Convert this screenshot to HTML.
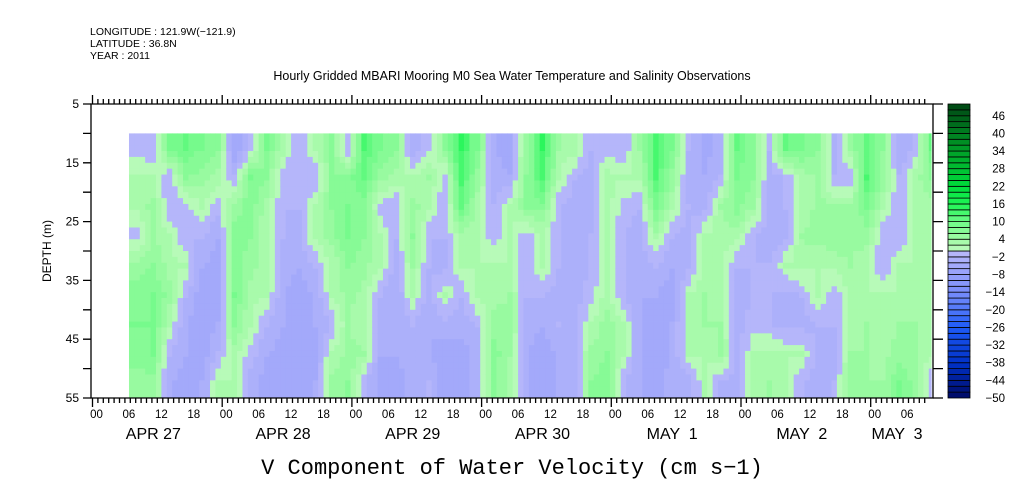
<!DOCTYPE html>
<html><head><meta charset="utf-8">
<style>
body{margin:0;background:#fff;}
svg{display:block;}
text{font-family:"Liberation Sans",sans-serif;fill:#000;}
</style></head>
<body>
<svg id="chart" width="1009" height="504" viewBox="0 0 1009 504" xmlns="http://www.w3.org/2000/svg">
<g font-size="10.5">
<text x="90" y="35">LONGITUDE : 121.9W(−121.9)</text>
<text x="90" y="47">LATITUDE : 36.8N</text>
<text x="90" y="59">YEAR : 2011</text>
</g>
<text x="512" y="80" font-size="12.5" text-anchor="middle">Hourly Gridded MBARI Mooring M0 Sea Water Temperature and Salinity Observations</text>
<g id="heat"></g>
<g id="axes" stroke="#000" stroke-width="1.3" fill="none"></g>
<g id="labels" font-size="12"></g>
<text transform="translate(51,251) rotate(-90)" font-size="12" text-anchor="middle">DEPTH (m)</text>
<text x="512" y="474" font-size="22" text-anchor="middle" style="font-family:'Liberation Mono',monospace">V Component of Water Velocity (cm s−1)</text>
<g id="cbar"></g>
</svg>
<script>
// depth rows centers: 12.5,17.5,...,52.5 ; columns: 3-hour blocks from hour 6.75 (Apr 27)
const depthRows=[12.5,17.5,22.5,27.5,32.5,37.5,42.5,47.5,52.5];
const cols=[
[-1,2,2,-1,5,7,8,7,5],[-2,2,5,4,6,8,8,8,5],[8,-2,-2,2,3,5,2,-2,-4],[10,6,-1,-2,2,-2,-4,-4,-5],
[8,5,2,-2,-4,-5,-5,-5,-4],[6,3,-1,-4,-5,-5,-4,-2,2],[-6,-2,5,7,7,8,6,3,2],[-2,8,7,6,5,3,2,-1,-3],
[8,6,3,2,2,2,-2,-4,-5],[3,-2,-2,-2,-3,-4,-4,-5,-6],[-2,-2,-2,-3,-4,-5,-5,-6,-6],[2,-2,2,3,-2,-4,-4,-5,-4],
[6,6,6,5,2,2,-2,2,5],[-2,7,8,8,6,5,4,5,6],[12,10,7,6,5,3,2,4,-2],[8,5,-1,2,2,-2,-3,-4,-5],
[6,3,-2,-2,-3,-4,-4,-4,-5],[-4,2,5,6,4,2,-2,-3,-3],[-1,4,2,-2,-2,-3,-4,-4,-2],[6,-1,-2,-2,-3,2,-3,-5,-5],
[14,13,10,3,2,-2,-3,-5,-5],[8,5,3,2,2,3,-2,-3,-3],[-4,-3,-2,-1,2,3,5,7,7],[-5,-4,2,2,2,4,5,4,3],
[5,6,6,-1,-2,-2,-3,-4,-4],[14,12,7,2,2,-2,-4,-5,-5],[4,2,-2,-2,-2,-3,-2,-4,-4],[3,-2,-3,-4,-3,-3,-3,-4,-4],
[-2,-3,-3,-2,-2,-1,2,5,6],[-1,3,3,2,2,3,5,6,7],[-2,2,-1,-2,-2,-2,2,2,-2],[4,2,-2,-3,-4,-4,-4,-4,-4],
[13,12,8,3,-2,-4,-5,-5,-5],[8,5,3,-2,-4,-5,-4,-4,-3],[-2,-3,-2,-3,-3,2,2,2,-4],[-5,-4,-3,2,2,4,4,2,2],
[-3,-2,4,3,2,3,4,5,-3],[10,8,7,3,-2,-3,-3,-3,-3],[6,6,4,-2,-2,-2,-1,2,2],[-2,-3,-3,-3,-2,-2,-2,3,4],
[10,-2,-2,-3,2,-3,-3,2,2],[9,2,2,4,3,-2,-3,2,-2],[6,5,5,5,2,2,-2,-3,-3],[-3,-2,4,5,3,-2,-2,-3,-2],
[4,-2,4,5,4,3,2,4,5],[10,12,8,5,2,2,4,4,4],[6,5,3,-2,-2,2,3,3,4],[-4,-2,-2,-2,2,2,4,5,8],
[-2,3,3,2,2,3,4,4,5],[10,6,3,2,3,2,3,2,-2]
];
const cbarTicks=[46,40,34,28,22,16,10,4,-2,-8,-14,-20,-26,-32,-38,-44,-50];
const yTicks=[5,15,25,35,45,55];
const hourLabels=["00","06","12","18"];
const dayLabels=["APR 27","APR 28","APR 29","APR 30","MAY  1","MAY  2","MAY  3"];

const NS="http://www.w3.org/2000/svg";
const X0=92.5, DAY=129.7, PL=91, PR=933, PT=104, PB=398;
const tx=h=>X0+h*DAY/24;
const ty=d=>PT+(d-5)*(PB-PT)/50;
const H0=6.75, HSTEP=3, HEND=155.2;
function mk(t,a,p){const e=document.createElementNS(NS,t);for(const k in a)e.setAttribute(k,a[k]);(p||document.getElementById('heat')).appendChild(e);return e;}
const pos=[[0,[190,250,190]],[4,[160,250,165]],[10,[110,250,135]],[16,[30,245,85]],[22,[0,220,60]],[34,[0,160,40]],[50,[0,70,20]]];
const neg=[[0,[185,185,250]],[-8,[150,160,250]],[-14,[120,140,250]],[-20,[80,120,250]],[-26,[30,90,245]],[-38,[0,50,200]],[-50,[0,10,100]]];
function interp(tab,v){for(let i=0;i<tab.length-1;i++){const a=tab[i],b=tab[i+1];const lo=Math.min(a[0],b[0]),hi=Math.max(a[0],b[0]);if(v>=lo&&v<=hi){const t=(v-a[0])/(b[0]-a[0]);return a[1].map((c,j)=>Math.round(c+(b[1][j]-c)*t));}}return tab[tab.length-1][1];}
function color(v){const b=Math.floor(v/2)*2+1;const c=b>0?interp(pos,b):interp(neg,b);return `rgb(${c[0]},${c[1]},${c[2]})`;}
function val(h,d){
  let cf=(h-H0)/HSTEP-0.5;cf=Math.max(0,Math.min(cols.length-1,cf));
  const c0=Math.floor(cf),c1=Math.min(cols.length-1,c0+1),ft=cf-c0;
  let rf=(d-12.5)/5;rf=Math.max(0,Math.min(depthRows.length-1,rf));
  const r0=Math.floor(rf),r1=Math.min(depthRows.length-1,r0+1),fr=rf-r0;
  const a=cols[c0][r0]*(1-fr)+cols[c0][r1]*fr, b=cols[c1][r0]*(1-fr)+cols[c1][r1]*fr;
  return a*(1-ft)+b*ft;
}
const heat=document.getElementById('heat');
for(let h=H0;h<HEND;h+=1){
  const he=Math.min(h+1,HEND);
  for(let d=10;d<55;d+=1){
    const r=mk('rect',{x:tx(h).toFixed(2),y:ty(d).toFixed(2),width:(tx(he)-tx(h)+0.4).toFixed(2),height:(ty(d+1)-ty(d)+0.4).toFixed(2),fill:color(val(h+0.5,d+0.5))},heat);
    
    
  }
}
// axes
const ax=document.getElementById('axes');
const frame=mk('path',{d:`M${PL},${PT}H${PR}V${PB}H${PL}Z`},ax);


let dt="",dl="";
for(let h=0;h<=154;h++){const x=tx(h).toFixed(1);const maj=h%24===0;dt+=`M${x},${PB}V${PB+(maj?9:5)}M${x},${PT}V${PT-(maj?9:5)}`;}
for(let d=5;d<=55;d+=5){const y=ty(d).toFixed(1);dl+=`M${PL},${y}H${PL-8}M${PR},${y}H${PR+10}`;}
const tk=mk('path',{d:dt+dl},ax);


const lab=document.getElementById('labels');
yTicks.forEach(d=>{const t=mk('text',{x:79,y:ty(d)+4,'text-anchor':'end'},lab);t.textContent=d;

});
for(let day=0;day<7;day++){
  hourLabels.forEach((s,i)=>{const h=day*24+i*6;if(h>154)return;const t=mk('text',{x:tx(h)+4,y:418,'text-anchor':'middle','font-size':'11.5'},lab);t.textContent=s;
  
  });
  const cx=day===6?897:tx(day*24+12)-4;
  const t=mk('text',{x:cx,y:439,'text-anchor':'middle','font-size':'16'},lab);t.textContent=dayLabels[day];t.setAttribute('xml:space','preserve');t.style.whiteSpace='pre';
  
  
}
// colorbar
const cb=document.getElementById('cbar');
const CX=948,CW=22,cy=v=>PB-(v+50)/100*(PB-PT);
for(let v=-50;v<50;v+=2){
  const r=mk('rect',{x:CX,y:cy(v+2).toFixed(2),width:CW,height:(cy(v)-cy(v+2)).toFixed(2),fill:color(v+1),stroke:'#000','stroke-width':'0.8'},cb);
  
  
}
cbarTicks.forEach(v=>{const t=mk('text',{x:1005,y:cy(v)+4,'text-anchor':'end','font-size':'11.5'},cb);t.textContent=v<0?'−'+(-v):String(v);

});
</script>
</body></html>
